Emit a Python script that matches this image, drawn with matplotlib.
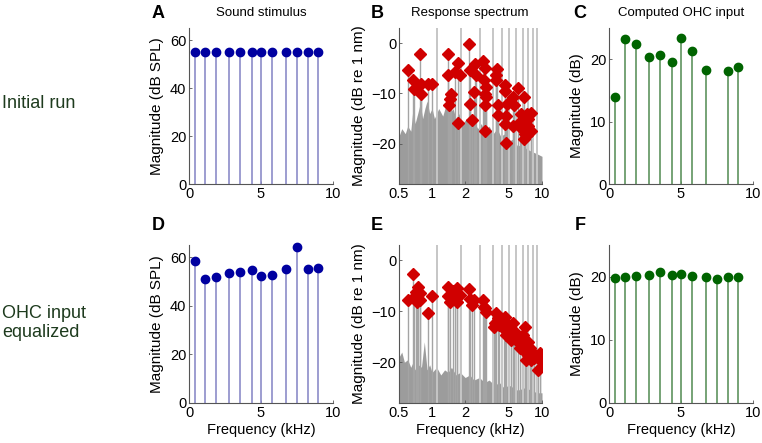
import numpy as np
import matplotlib
matplotlib.use('Agg')
import matplotlib.pyplot as plt

plt.rcParams['font.family'] = ['Liberation Sans', 'DejaVu Sans']

# stimulus tone frequencies (kHz)
stim_f = [0.39, 1.11, 1.85, 2.75, 3.56, 4.37, 5.02, 5.76, 6.76, 7.50, 8.24, 8.96]

# panel A / D: sound stimulus (dB SPL)
stim_init = [55, 55, 55, 55, 55, 55, 55, 55, 55, 55, 55, 55]
stim_eq = [58.6, 51.0, 51.9, 53.4, 53.9, 54.7, 52.3, 52.8, 55.0, 64.1, 55.0, 55.4]

# panel C / F: computed OHC input (dB)
ohc_f_init = [0.39, 1.11, 1.85, 2.75, 3.56, 4.37, 5.02, 5.76, 6.76, 8.24, 8.96]
ohc_init = [13.9, 23.3, 22.4, 20.3, 20.7, 19.5, 23.4, 21.3, 18.2, 18.1, 18.8]
ohc_eq = [19.8, 19.9, 20.1, 20.2, 20.7, 20.3, 20.4, 20.1, 19.9, 19.6, 19.9, 19.9]

# panel B: distortion products (kHz, dB re 1 nm)
dp_f_init = [0.61, 0.67, 0.68, 0.77, 0.79, 0.80, 0.92, 1.00, 1.41, 1.40, 1.50, 1.45,
             1.44, 1.62, 1.72, 1.80, 1.73, 2.16, 2.20, 2.23, 2.29, 2.40, 2.46, 2.50,
             2.93, 3.00, 2.95, 3.10, 3.00, 3.10, 3.05, 3.05, 3.90, 3.80, 3.85, 3.95,
             3.95, 4.65, 4.65, 4.80, 4.75, 4.60, 4.75, 5.50, 5.60, 6.10, 5.45, 6.85,
             6.45, 7.25, 8.00, 6.45, 7.00, 6.30, 7.50, 7.50, 7.00, 7.30, 8.00, 6.90]
dp_init = [-5.3, -7.4, -9.2, -2.1, -8.2, -10.1, -8.1, -8.1, -2.1, -6.3, -10.1, -11.2,
           -12.4, -5.8, -3.9, -6.4, -15.8, -0.1, -5.4, -12.1, -15.2, -9.7, -4.1, -6.4,
           -3.6, -4.9, -7.4, -8.7, -10.1, -10.7, -12.4, -17.5, -5.1, -6.4, -7.4, -12.4,
           -14.2, -8.3, -9.6, -12.1, -14.4, -16.0, -19.8, -10.7, -12.4, -8.9, -16.4, -10.7,
           -14.0, -14.0, -13.8, -15.4, -15.7, -16.7, -15.0, -16.4, -18.0, -18.3, -17.5, -19.0]

# panel E: distortion products after equalization
dp_f_eq = [0.60, 0.67, 0.69, 0.72, 0.75, 0.77, 0.78, 0.73, 0.92, 1.00, 1.40, 1.40,
           1.45, 1.55, 1.62, 1.70, 1.78, 1.70, 2.16, 2.20, 2.40, 2.30, 2.90, 2.95,
           3.10, 3.00, 3.80, 3.95, 3.70, 4.10, 3.65, 4.60, 4.75, 4.50, 5.20, 4.75,
           5.45, 5.55, 5.85, 5.25, 6.10, 7.00, 6.75, 6.55, 7.15, 6.35, 7.00, 7.50,
           7.70, 8.10, 7.50, 7.90, 7.20, 8.40, 9.20, 10.0, 9.50, 8.50]
dp_eq = [-7.8, -2.7, -7.2, -6.2, -5.3, -6.5, -7.8, -8.1, -10.3, -7.0, -5.3, -7.0,
         -8.1, -6.0, -7.2, -5.5, -6.8, -8.1, -5.7, -7.5, -7.8, -8.8, -7.8, -9.1,
         -10.1, -9.4, -10.4, -11.4, -12.4, -12.7, -13.0, -11.1, -12.4, -13.4, -13.7, -14.7,
         -12.4, -13.9, -14.7, -15.6, -16.0, -13.0, -14.7, -16.0, -16.6, -17.3, -17.9, -16.0,
         -17.3, -17.9, -18.6, -19.5, -19.5, -19.2, -21.5, -20.0, -18.2, -18.7]

# noise floor of response spectra (read envelope)
floor_f_init = [0.50, 0.53, 0.57, 0.60, 0.64, 0.67, 0.70, 0.74, 0.78, 0.82, 0.86, 0.90,
                0.95, 1.00, 1.05, 1.15, 1.25, 1.35, 1.45, 1.55, 1.65, 1.75, 1.90, 2.05,
                2.20, 2.40, 2.60, 2.80, 3.00, 3.30, 3.60, 3.90, 4.20, 4.60, 5.00, 5.50,
                6.00, 6.60, 7.20, 8.00, 9.00, 10.0]
floor_init = [-18.5, -17, -18, -16.5, -17.5, -13, -16, -14, -12, -15, -13, -11.5,
              -14, -13, -15, -13, -14.5, -12, -14, -13, -15, -14, -16, -15,
              -16.5, -15.5, -17, -16, -17.5, -16.5, -18, -17, -18.5, -18, -19.5, -19,
              -20.5, -20, -21, -21.5, -22, -22.5]
floor_f_eq = [0.50, 0.53, 0.56, 0.60, 0.64, 0.67, 0.70, 0.75, 0.80, 0.85, 0.90, 0.95,
              1.00, 1.10, 1.20, 1.30, 1.40, 1.50, 1.65, 1.80, 2.00, 2.20, 2.40, 2.70,
              3.00, 3.30, 3.70, 4.10, 4.50, 5.00, 5.50, 6.00, 7.00, 8.00, 9.00, 10.0]
floor_eq = [-19, -18, -20, -19.5, -21, -20, -21.5, -20.5, -21, -16, -21.5, -20.5,
            -22, -21, -22.5, -21.5, -22, -21, -22.5, -22, -23, -22.5, -23.5, -23,
            -24, -23.5, -24.5, -24, -25, -24.5, -25, -25.5, -25, -25.5, -26, -26]

blue = '#0000a0'
blue_stem = '#8c8cc8'
green = '#006400'
green_stem = '#5f935f'
red = '#d00000'
row_col = '#1e3b1e'

fig = plt.figure(figsize=(7.62, 4.43), dpi=100)
W, H = 762.0, 443.0


def add_ax(x0, x1, ytop, ybot):
    ax = fig.add_axes([x0 / W, 1 - ybot / H, (x1 - x0) / W, (ybot - ytop) / H])
    for s in ['top', 'right']:
        ax.spines[s].set_visible(False)
    for s in ['left', 'bottom']:
        ax.spines[s].set_color('#555555')
        ax.spines[s].set_linewidth(0.8)
    ax.tick_params(direction='in', length=2, width=0.6, labelsize=10.5, pad=2, color='#555555')
    return ax


def stem_panel(ax, f, v, sc, mc):
    ax.vlines(f, 0, v, color=sc, lw=1.2)
    ax.plot(f, v, 'o', color=mc, ms=6, mec=mc, clip_on=False, zorder=3)
    ax.set_xlim(0, 10)
    ax.set_xticks([0, 5, 10])


def spec_panel(ax, ff, fl, df, dv):
    ax.fill_between(ff, -28, fl, color='#9c9c9c', lw=0)
    ax.vlines(df, -28, dv, color='#a4a4a4', lw=1.0)
    ax.vlines(stim_f, -28, 3, color='#c6c6c6', lw=1.4)
    ax.plot(df, dv, 'D', color=red, ms=6.3, mec=red, ls='none')
    ax.set_xscale('log')
    ax.set_xlim(0.5, 10)
    ax.set_ylim(-28, 3)
    ax.set_xticks([0.5, 1, 2, 5, 10])
    ax.set_xticklabels(['0.5', '1', '2', '5', '10'])
    ax.minorticks_off()
    ax.set_yticks([-20, -10, 0])
    ax.set_ylabel('Magnitude (dB re 1 nm)', fontsize=11)


rows = [(28, 184), (245, 403)]

# row 1
axA = add_ax(189, 333, *rows[0])
stem_panel(axA, stim_f, stim_init, blue_stem, blue)
axA.set_ylim(0, 65)
axA.set_yticks([0, 20, 40, 60])
axA.set_ylabel('Magnitude (dB SPL)', fontsize=11)

axB = add_ax(399, 542, *rows[0])
spec_panel(axB, floor_f_init, floor_init, dp_f_init, dp_init)

axC = add_ax(609, 753, *rows[0])
stem_panel(axC, ohc_f_init, ohc_init, green_stem, green)
axC.set_ylim(0, 25)
axC.set_yticks([0, 10, 20])
axC.set_ylabel('Magnitude (dB)', fontsize=11)

# row 2
axD = add_ax(189, 333, *rows[1])
stem_panel(axD, stim_f, stim_eq, blue_stem, blue)
axD.set_ylim(0, 65)
axD.set_yticks([0, 20, 40, 60])
axD.set_ylabel('Magnitude (dB SPL)', fontsize=11)

axE = add_ax(399, 542, *rows[1])
spec_panel(axE, floor_f_eq, floor_eq, dp_f_eq, dp_eq)

axF = add_ax(609, 753, *rows[1])
stem_panel(axF, stim_f, ohc_eq, green_stem, green)
axF.set_ylim(0, 25)
axF.set_yticks([0, 10, 20])
axF.set_ylabel('Magnitude (dB)', fontsize=11)

for ax in [axD, axE, axF]:
    ax.set_xlabel('Frequency (kHz)', fontsize=10.5, labelpad=2)

# titles and panel letters
for x, t in [(261, 'Sound stimulus'), (470, 'Response spectrum'), (681, 'Computed OHC input')]:
    fig.text(x / W, 1 - 13 / H, t, fontsize=9.5, ha='center', va='center')
for x, y, l in [(158, 13, 'A'), (377, 13, 'B'), (580, 13, 'C'),
                (158, 226, 'D'), (377, 226, 'E'), (580, 226, 'F')]:
    fig.text(x / W, 1 - y / H, l, fontsize=13, fontweight='bold', ha='center', va='center')

fig.text(2 / W, 1 - 104 / H, 'Initial run', fontsize=13, color=row_col, va='center')
fig.text(2 / W, 1 - 323 / H, 'OHC input\nequalized', fontsize=13, color=row_col,
         va='center', linespacing=1.1)

fig.savefig('out.png', dpi=100)
